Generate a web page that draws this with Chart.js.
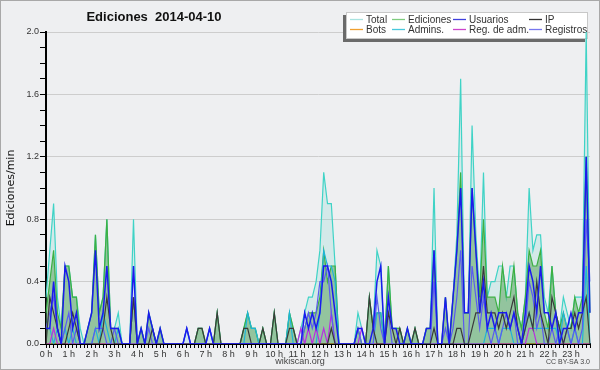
<!DOCTYPE html>
<html>
<head>
<meta charset="utf-8">
<script src="https://cdn.jsdelivr.net/npm/chart.js@4.4.1/dist/chart.umd.min.js"></script>
<style>
    html, body { margin: 0; padding: 0; background: #eeeff1; }
    canvas { display: block; }
</style>
</head>
<body>
<canvas id="editsChart" width="600" height="370"></canvas>
<script>
// ---------------------------------------------
// DATA (edits per minute, one value every 10 minutes)
// ---------------------------------------------
const chartTitle = "Ediciones  2014-04-10";
const yAxisTitle = "Ediciones/min";
const hourLabels = ["0 h", "1 h", "2 h", "3 h", "4 h", "5 h", "6 h", "7 h", "8 h", "9 h", "10 h", "11 h",
    "12 h", "13 h", "14 h", "15 h", "16 h", "17 h", "18 h", "19 h", "20 h", "21 h", "22 h", "23 h"];
const yTickLabels = ["0.0", "0.4", "0.8", "1.2", "1.6", "2.0"];
const seriesNames = ["Total", "Ediciones", "Usuarios", "IP", "Bots", "Admins.", "Reg. de adm.", "Registros"];

const totalValues = [
    0.3, 0.6, 0.9, 0.3, 0.1, 0.5, 0.5, 0.3, 0.3, 0.1, 0, 0.1,
    0.2, 0.7, 0.2, 0.3, 0.8, 0.1, 0.1, 0.2, 0, 0, 0, 0.8,
    0, 0.1, 0, 0.2, 0.1, 0, 0.1, 0, 0, 0, 0, 0,
    0, 0.1, 0, 0, 0.1, 0.1, 0, 0.1, 0, 0.2, 0, 0,
    0, 0, 0, 0, 0.1, 0.2, 0.1, 0.1, 0, 0.1, 0, 0,
    0.2, 0, 0, 0, 0.2, 0.1, 0, 0.1, 0.2, 0.3, 0.3, 0.4,
    0.6, 1.1, 0.9, 0.9, 0.5, 0, 0, 0, 0, 0, 0.2, 0.1,
    0, 0.3, 0.1, 0.6, 0.5, 0, 0.5, 0.1, 0.1, 0.1, 0, 0.1,
    0, 0.1, 0, 0, 0.1, 0.1, 1.0, 0, 0, 0.3, 0, 0.3,
    0.7, 1.7, 0.2, 0.2, 1.4, 0.7, 0.3, 1.1, 0.3, 0.4, 0.4, 0.5,
    0.5, 0.3, 0.5, 0.5, 0.2, 0.1, 0.3, 1.0, 0.6, 0.7, 0.7, 0.3,
    0.2, 0.5, 0.2, 0.1, 0.3, 0.2, 0.1, 0.3, 0.3, 0.3, 2.0, 0.2
];
const editValues = [
    0.2, 0.4, 0.6, 0.2, 0.1, 0.5, 0.5, 0.3, 0.3, 0, 0, 0.1,
    0.2, 0.7, 0.2, 0.3, 0.8, 0.1, 0.1, 0.1, 0, 0, 0, 0.3,
    0, 0.1, 0, 0.2, 0.1, 0, 0.1, 0, 0, 0, 0, 0,
    0, 0, 0, 0, 0.1, 0.1, 0, 0, 0, 0.2, 0, 0,
    0, 0, 0, 0, 0.1, 0.2, 0.1, 0.1, 0, 0.1, 0, 0,
    0.2, 0, 0, 0, 0.2, 0.1, 0, 0, 0.1, 0.2, 0.2, 0.2,
    0.3, 0.6, 0.4, 0.5, 0.5, 0, 0, 0, 0, 0, 0.1, 0,
    0, 0.3, 0.1, 0.2, 0.2, 0, 0.5, 0.1, 0.1, 0.1, 0, 0.1,
    0, 0.1, 0, 0, 0.1, 0.1, 0.6, 0, 0, 0.3, 0, 0.3,
    0.6, 1.1, 0.2, 0.2, 1.0, 0.6, 0.3, 0.8, 0.3, 0.3, 0.3, 0.2,
    0.5, 0.3, 0.3, 0.5, 0.2, 0.1, 0.3, 0.6, 0.5, 0.5, 0.6, 0.2,
    0.1, 0.5, 0.2, 0.1, 0.2, 0.1, 0.1, 0.3, 0.2, 0.3, 1.2, 0.2
];
const userValues = [
    0.1, 0.1, 0.4, 0.1, 0, 0.5, 0.4, 0.1, 0.2, 0, 0, 0.1,
    0.2, 0.6, 0.1, 0.2, 0.5, 0.1, 0.1, 0.1, 0, 0, 0, 0.5,
    0, 0.1, 0, 0.2, 0.1, 0, 0.1, 0, 0, 0, 0, 0,
    0, 0.1, 0, 0, 0, 0, 0, 0.1, 0, 0, 0, 0,
    0, 0, 0, 0, 0, 0, 0, 0, 0, 0, 0, 0,
    0, 0, 0, 0, 0, 0, 0, 0, 0.2, 0.1, 0.2, 0.1,
    0.2, 0.5, 0.5, 0.4, 0.2, 0, 0, 0, 0, 0, 0.1, 0.1,
    0, 0, 0.1, 0.4, 0.5, 0, 0.3, 0.1, 0.1, 0, 0, 0.1,
    0, 0, 0, 0, 0.1, 0.1, 0.6, 0, 0, 0.3, 0, 0.3,
    0.6, 1.0, 0.2, 0.2, 1.0, 0.6, 0.2, 0.4, 0.1, 0.2, 0.1, 0.2,
    0.2, 0.2, 0.1, 0.2, 0.1, 0, 0.2, 0.5, 0.4, 0.2, 0.5, 0.2,
    0.2, 0.1, 0.2, 0, 0.1, 0.1, 0.2, 0.1, 0.2, 0.2, 1.2, 0.2
];
const ipValues = [
    0, 0.3, 0.2, 0.1, 0, 0, 0.1, 0.2, 0.1, 0, 0, 0,
    0, 0, 0, 0.1, 0.3, 0.1, 0, 0, 0, 0, 0, 0.3,
    0, 0, 0, 0, 0.1, 0, 0, 0, 0, 0, 0, 0,
    0, 0, 0, 0, 0.1, 0.1, 0, 0, 0, 0.2, 0, 0,
    0, 0, 0, 0, 0.1, 0.1, 0, 0, 0, 0.1, 0, 0,
    0.2, 0, 0, 0, 0.1, 0.1, 0, 0, 0, 0, 0, 0,
    0, 0, 0, 0.1, 0, 0, 0, 0, 0, 0, 0, 0,
    0, 0.3, 0.1, 0, 0, 0, 0.2, 0.1, 0, 0.1, 0, 0,
    0, 0.1, 0, 0, 0, 0, 0.1, 0, 0, 0, 0, 0,
    0.1, 0.1, 0, 0, 0.1, 0.2, 0.2, 0.5, 0.2, 0.2, 0.2, 0.1,
    0.2, 0.1, 0.2, 0.3, 0.1, 0, 0.1, 0.2, 0.1, 0.4, 0.2, 0.1,
    0, 0.3, 0.2, 0.1, 0, 0.1, 0.1, 0.2, 0.1, 0.2, 0.3, 0
];
const botValues = [
    0, 0, 0, 0, 0, 0, 0, 0, 0, 0, 0, 0,
    0, 0, 0, 0, 0, 0, 0, 0, 0, 0, 0, 0,
    0, 0, 0, 0, 0, 0, 0, 0, 0, 0, 0, 0,
    0, 0, 0, 0, 0, 0, 0, 0, 0, 0, 0, 0,
    0, 0, 0, 0, 0, 0, 0, 0, 0, 0, 0, 0,
    0, 0, 0, 0, 0, 0, 0, 0, 0, 0, 0, 0,
    0, 0, 0, 0, 0, 0, 0, 0, 0, 0, 0, 0,
    0, 0, 0, 0, 0, 0, 0, 0, 0, 0, 0, 0,
    0, 0, 0, 0, 0, 0, 0, 0, 0, 0, 0, 0,
    0, 0, 0, 0, 0, 0, 0, 0, 0, 0, 0, 0,
    0, 0, 0, 0, 0, 0, 0, 0, 0, 0, 0, 0,
    0, 0, 0, 0, 0, 0, 0, 0, 0, 0, 0, 0
];
const adminValues = [
    0.1, 0.1, 0, 0.1, 0, 0.1, 0, 0.1, 0, 0, 0, 0,
    0, 0.1, 0, 0.2, 0.1, 0, 0, 0.1, 0, 0, 0, 0,
    0, 0, 0, 0, 0, 0, 0, 0, 0, 0, 0, 0,
    0, 0, 0, 0, 0, 0, 0, 0, 0, 0, 0, 0,
    0, 0, 0, 0, 0, 0.2, 0.1, 0.1, 0, 0, 0, 0,
    0, 0, 0, 0, 0.2, 0, 0, 0, 0, 0, 0, 0,
    0.2, 0.6, 0.5, 0.5, 0.4, 0, 0, 0, 0, 0, 0, 0,
    0, 0, 0, 0.2, 0.2, 0, 0, 0, 0, 0, 0, 0,
    0, 0, 0, 0, 0, 0, 0, 0, 0, 0, 0, 0,
    0, 0, 0, 0, 0, 0, 0, 0, 0.1, 0.1, 0.1, 0,
    0.1, 0.1, 0.1, 0, 0, 0, 0.1, 0.2, 0.1, 0.1, 0.1, 0.1,
    0.1, 0.1, 0.1, 0, 0.2, 0.1, 0, 0.1, 0, 0, 0.5, 0
];
const adminLogValues = [
    0, 0, 0.1, 0, 0, 0, 0, 0, 0, 0, 0, 0,
    0, 0, 0, 0, 0, 0, 0, 0, 0, 0, 0, 0,
    0, 0, 0, 0, 0, 0, 0, 0, 0, 0, 0, 0,
    0, 0, 0, 0, 0, 0, 0, 0, 0, 0, 0, 0,
    0, 0, 0, 0, 0, 0, 0, 0, 0, 0, 0, 0,
    0, 0, 0, 0, 0, 0, 0, 0.1, 0, 0.1, 0, 0.1,
    0, 0.1, 0, 0.2, 0, 0, 0, 0, 0, 0, 0, 0.1,
    0, 0, 0, 0, 0, 0, 0, 0, 0, 0, 0, 0,
    0, 0, 0, 0, 0, 0, 0, 0, 0, 0, 0, 0,
    0, 0, 0, 0, 0, 0, 0, 0, 0, 0, 0, 0,
    0, 0, 0, 0, 0, 0, 0, 0.1, 0.1, 0, 0, 0,
    0, 0, 0, 0, 0, 0, 0, 0, 0, 0, 0, 0
];
const logValues = [
    0.1, 0.2, 0.3, 0.1, 0, 0.1, 0.2, 0, 0.1, 0, 0, 0,
    0, 0.1, 0.1, 0.1, 0, 0, 0.1, 0, 0, 0, 0, 0.3,
    0, 0, 0, 0.1, 0, 0, 0, 0, 0, 0, 0, 0,
    0, 0.1, 0, 0, 0, 0, 0, 0.1, 0, 0, 0, 0,
    0, 0, 0, 0, 0, 0, 0, 0, 0, 0, 0, 0,
    0, 0, 0, 0, 0, 0, 0, 0, 0.1, 0.2, 0.1, 0.2,
    0.4, 0.4, 0.5, 0.2, 0, 0, 0, 0, 0, 0, 0.1, 0,
    0, 0, 0, 0.3, 0.1, 0, 0.2, 0, 0, 0, 0, 0,
    0, 0, 0, 0, 0, 0, 0.4, 0, 0, 0.1, 0, 0.1,
    0.3, 0.6, 0, 0, 0.5, 0.3, 0.1, 0.3, 0.1, 0, 0.1, 0,
    0.1, 0.2, 0.1, 0.2, 0, 0, 0.1, 0.4, 0.3, 0.1, 0.2, 0,
    0, 0.1, 0, 0.1, 0, 0.1, 0, 0.1, 0, 0.1, 0.8, 0.4
];

// line colours in the plot, and the paler swatches used in the legend
const lineColors = ["#3fd3c6", "#3cb043", "#1a1aee", "#3a3a3a", "#f0a030", "#1fb5d8", "#b830e0", "#5b5bf0"];
const swatchColors = ["#a9e3e0", "#7fcc7f", "#4040dd", "#333333", "#f0a030", "#48c8dc", "#cc44cc", "#7777ee"];

// ---------------------------------------------
// DECORATION PLUGIN (background, title, legend box, footer)
// ---------------------------------------------
const chartDecor = {
    id: "chartDecor",
    beforeDraw(chart) {
        const ctx = chart.ctx;
        ctx.save();
        ctx.fillStyle = "#eeeff1";
        ctx.fillRect(0, 0, chart.width, chart.height);
        ctx.restore();
    },
    beforeDatasetsDraw(chart) {
        const ctx = chart.ctx;
        ctx.save();
        // legend box with its shadow
        ctx.fillStyle = "#6a6a6a";
        ctx.fillRect(343, 15, 242, 27);
        ctx.fillStyle = "#ffffff";
        ctx.fillRect(346, 12, 242, 27);
        ctx.strokeStyle = "#c8c8c8";
        ctx.lineWidth = 1;
        ctx.strokeRect(346.5, 12.5, 241, 26);

        const colX = [350, 392, 453, 529];
        const rowY = [19.5, 29.5];
        ctx.font = "10px 'Liberation Sans', Arial, sans-serif";
        ctx.textBaseline = "middle";
        ctx.textAlign = "left";
        ctx.lineWidth = 1.3;
        seriesNames.forEach((name, k) => {
            const x = colX[k % 4];
            const y = rowY[Math.floor(k / 4)];
            ctx.strokeStyle = swatchColors[k];
            ctx.beginPath();
            ctx.moveTo(x, y);
            ctx.lineTo(x + 13, y);
            ctx.stroke();
            ctx.fillStyle = "#333333";
            ctx.fillText(name, x + 16, y + 0.5);
        });
        ctx.restore();
    },
    afterDraw(chart) {
        const ctx = chart.ctx;
        ctx.save();
        // outer frame
        ctx.strokeStyle = "#a8a8a8";
        ctx.lineWidth = 1;
        ctx.strokeRect(0.5, 0.5, chart.width - 1, chart.height - 1);

        // title
        ctx.fillStyle = "#111111";
        ctx.font = "bold 13px 'Liberation Sans', Arial, sans-serif";
        ctx.textAlign = "center";
        ctx.textBaseline = "middle";
        ctx.fillText(chartTitle, 154, 17);

        // y axis title
        ctx.save();
        ctx.translate(11, 188);
        ctx.rotate(-Math.PI / 2);
        ctx.font = "11px 'DejaVu Sans', sans-serif";
        ctx.fillStyle = "#111111";
        ctx.fillText(yAxisTitle, 0, 0);
        ctx.restore();

        // footer texts
        ctx.fillStyle = "#444444";
        ctx.font = "9px 'Liberation Sans', Arial, sans-serif";
        ctx.fillText("wikiscan.org", 300, 362);
        ctx.font = "7px 'Liberation Sans', Arial, sans-serif";
        ctx.textAlign = "right";
        ctx.fillText("CC BY-SA 3.0", 590, 362);
        ctx.restore();
    }
};

// ---------------------------------------------
// INIT CHART
// ---------------------------------------------
function initChart() {
    const canvas = document.getElementById("editsChart");
    if (!canvas || typeof Chart === "undefined") return;

    // one slot every 10 minutes, hour name on the first slot of each hour
    const slotLabels = [];
    hourLabels.forEach(h => {
        slotLabels.push(h, "", "", "", "", "");
    });

    const seriesValues = [totalValues, editValues, userValues, ipValues, botValues, adminValues, adminLogValues, logValues];
    // draw order: lower number is painted on top
    const drawOrder = [8, 7, 1, 2, 6, 5, 4, 3];
    const widths = [1.2, 1.2, 1.5, 1.2, 1, 1.2, 1.2, 1.2];

    const datasets = seriesNames.map((name, k) => ({
        label: name,
        data: seriesValues[k],
        borderColor: lineColors[k],
        borderWidth: widths[k],
        pointRadius: 0,
        tension: 0,
        order: drawOrder[k],
        fill: k === 0 ? { target: "origin", above: "rgba(120, 215, 205, 0.22)" }
            : k === 1 ? { target: "origin", above: "rgba(75, 155, 75, 0.47)" }
            : false
    }));

    new Chart(canvas.getContext("2d"), {
        type: "line",
        data: { labels: slotLabels, datasets },
        plugins: [chartDecor],
        options: {
            responsive: false,
            animation: false,
            devicePixelRatio: 1,
            layout: { padding: { left: 0, right: 10, top: 32, bottom: 0 } },
            plugins: {
                legend: { display: false },
                tooltip: { enabled: false }
            },
            scales: {
                x: {
                    z: 1,
                    offset: false,
                    afterFit: scale => { scale.height = 26; },
                    grid: { drawOnChartArea: false, tickLength: 4, tickColor: "#000", tickWidth: 1 },
                    border: { color: "#000", width: 2 },
                    ticks: {
                        autoSkip: false,
                        maxRotation: 0,
                        padding: 1,
                        color: "#333",
                        font: { family: "'Liberation Sans', Arial, sans-serif", size: 9 }
                    }
                },
                y: {
                    min: 0,
                    max: 2,
                    afterFit: scale => { scale.width = 46; },
                    grid: {
                        color: c => (c.tick && Math.round(c.tick.value * 10) % 4 === 0) ? "#cdcdcd" : "rgba(0,0,0,0)",
                        tickColor: "#000",
                        tickLength: 6,
                        tickWidth: 1
                    },
                    border: { color: "#000", width: 2 },
                    ticks: {
                        stepSize: 0.1,
                        autoSkip: false,
                        padding: 1,
                        color: "#333",
                        font: { family: "'Liberation Sans', Arial, sans-serif", size: 9 },
                        callback: v => {
                            const n = Math.round(v * 10);
                            return n % 4 === 0 ? yTickLabels[n / 4] : "";
                        }
                    }
                }
            }
        }
    });
}

// ---------------------------------------------
// DOM READY
// ---------------------------------------------
document.addEventListener("DOMContentLoaded", () => {
    initChart();
});
</script>
</body>
</html>
